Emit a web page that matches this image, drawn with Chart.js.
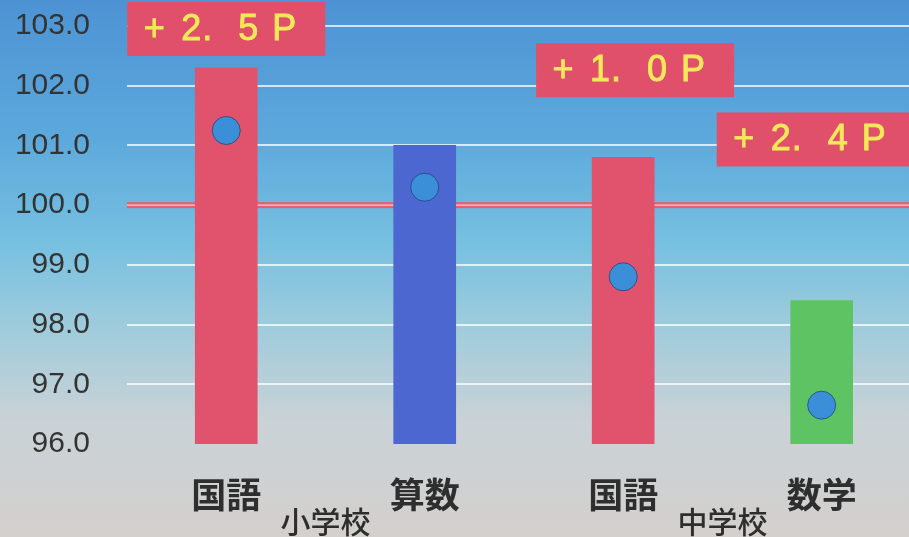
<!DOCTYPE html>
<html>
<head>
<meta charset="utf-8">
<script src="https://cdn.jsdelivr.net/npm/chart.js@4/dist/chart.umd.min.js"></script>
<style>
  html, body { margin: 0; padding: 0; background: #cfd0d0; }
  #wrap { width: 909px; height: 537px; }
</style>
</head>
<body>
<div id="wrap"><canvas id="scoreChart" width="909" height="537"></canvas></div>
<script>
let subjects = ['国語', '算数', '国語', '数学'];
let bar_base = 96.0;
let bar_top = [102.3, 101.0, 100.8, 98.4];
let dot_value = [101.25, 100.3, 98.8, 96.65];
let bar_colors = ['#e1536c', '#4c67cf', '#e1536c', '#5ec463'];
let groups = ['小学校', '中学校'];
let gap_labels = ['+2.5P', '+1.0P', '+2.4P'];
let y_ticks = [96, 97, 98, 99, 100, 101, 102, 103];
let reference = 100.0;

let bgPlugin = {
    id: 'bg',
    beforeDraw(chart) {
        let ctx = chart.ctx;
        let g = ctx.createLinearGradient(0, 0, 0, chart.height);
        g.addColorStop(0, '#4d93d4');
        g.addColorStop(0.25, '#5ca8dc');
        g.addColorStop(0.45, '#76c0e0');
        g.addColorStop(0.6, '#9dcbdc');
        g.addColorStop(0.78, '#c9d2d6');
        g.addColorStop(1, '#d4d0ce');
        ctx.save();
        ctx.fillStyle = g;
        ctx.fillRect(0, 0, chart.width, chart.height);
        ctx.restore();
    }
};

// red 100.0 line, drawn under the bars
let refPlugin = {
    id: 'refLine',
    beforeDatasetsDraw(chart) {
        let ctx = chart.ctx;
        let area = chart.chartArea;
        let y = chart.scales.y.getPixelForValue(reference);
        ctx.save();
        ctx.fillStyle = '#e4606e';
        ctx.fillRect(area.left, y - 3, area.right - area.left, 6);
        ctx.fillStyle = 'rgba(250,200,200,0.8)';
        ctx.fillRect(area.left, y - 0.8, area.right - area.left, 1.6);
        ctx.restore();
    }
};

// "+2. 5P" style boxes; each character sits on its own slot like the typeset original
let boxPlugin = {
    id: 'gapBoxes',
    afterDatasetsDraw(chart, args, opts) {
        let ctx = chart.ctx;
        let xs = chart.scales.x, ys = chart.scales.y;
        ctx.save();
        opts.anchors.forEach((a, i) => {
            let left = xs.getPixelForValue(a.x) - opts.w / 2;
            let cy = ys.getPixelForValue(a.y);
            ctx.fillStyle = '#e0506a';
            ctx.fillRect(left, cy - opts.h / 2, opts.w, opts.h);
            ctx.fillStyle = '#f2e95a';
            ctx.strokeStyle = '#f2e95a';
            ctx.lineWidth = 0.9;
            ctx.font = '36px "Liberation Sans"';
            ctx.textAlign = 'center';
            ctx.textBaseline = 'middle';
            let chars = gap_labels[i].split('');
            chars.forEach((c, k) => {
                ctx.fillText(c, left + opts.slots[k], cy + 1);
                ctx.strokeText(c, left + opts.slots[k], cy + 1);
            });
        });
        ctx.restore();
    }
};

let groupPlugin = {
    id: 'groupLabels',
    afterDraw(chart, args, opts) {
        let ctx = chart.ctx;
        let xs = chart.scales.x;
        ctx.save();
        ctx.fillStyle = '#2e2e2e';
        ctx.font = '500 30px "Noto Sans CJK JP"';
        ctx.textAlign = 'center';
        ctx.textBaseline = 'middle';
        opts.at.forEach((v, i) => {
            ctx.fillText(groups[i], xs.getPixelForValue(v), opts.y);
        });
        ctx.restore();
    }
};

let barData = subjects.map((s, i) => ({ x: i, y: [bar_base, bar_top[i]] }));
let dotData = subjects.map((s, i) => ({ x: i, y: dot_value[i] }));

let ctx1 = document.getElementById('scoreChart');
let scoreChart = new Chart(ctx1, {
    type: 'bar',
    data: {
        datasets: [{
            type: 'scatter',
            data: dotData,
            pointRadius: 14,
            pointHoverRadius: 14,
            backgroundColor: '#3b8fd8',
            borderColor: 'rgba(30,60,110,0.7)',
            borderWidth: 1,
            order: 0
        }, {
            data: barData,
            backgroundColor: bar_colors,
            borderWidth: 0,
            barThickness: 62,
            order: 1
        }]
    },
    options: {
        responsive: false,
        animation: false,
        layout: { autoPadding: false, padding: { top: 26, right: 0, left: 0, bottom: 0 } },
        plugins: {
            legend: { display: false },
            tooltip: { enabled: false },
            gapBoxes: {
                w: 198, h: 54,
                slots: [27, 64, 80, 121, 157],
                anchors: [{ x: 0, y: 102.95 }, { x: 2.06, y: 102.26 }, { x: 2.97, y: 101.1 }]
            },
            groupLabels: { at: [0.5, 2.5], y: 522 }
        },
        scales: {
            x: {
                type: 'linear',
                offset: false,
                min: -0.5,
                max: 3.44,
                afterBuildTicks: (scale) => { scale.ticks = subjects.map((s, i) => ({ value: i })); },
                afterFit: (scale) => {
                    scale.height = 93;
                    scale.paddingLeft = 0;
                    scale.paddingRight = 0;
                },
                grid: { display: false, drawTicks: false },
                border: { display: false },
                ticks: {
                    padding: 30,
                    color: '#2e2e2e',
                    font: { family: '"Noto Sans CJK JP"', size: 35, weight: 'bold' },
                    callback: (v) => subjects[v]
                }
            },
            y: {
                min: 96,
                max: 103,
                afterBuildTicks: (scale) => { scale.ticks = y_ticks.map(v => ({ value: v })); },
                afterFit: (scale) => {
                    scale.width = 127;
                    scale.paddingTop = 0;
                    scale.paddingBottom = 0;
                },
                grid: {
                    drawTicks: false,
                    lineWidth: 2,
                    color: (c) => (c.tick.value === 96 || c.tick.value === reference) ? 'rgba(0,0,0,0)' : 'rgba(255,255,255,0.75)'
                },
                border: { display: false },
                ticks: {
                    padding: 37,
                    color: '#333333',
                    font: { family: '"Liberation Sans"', size: 30 },
                    callback: (v) => v.toFixed(1)
                }
            }
        }
    },
    plugins: [bgPlugin, refPlugin, boxPlugin, groupPlugin]
});
</script>
</body>
</html>
